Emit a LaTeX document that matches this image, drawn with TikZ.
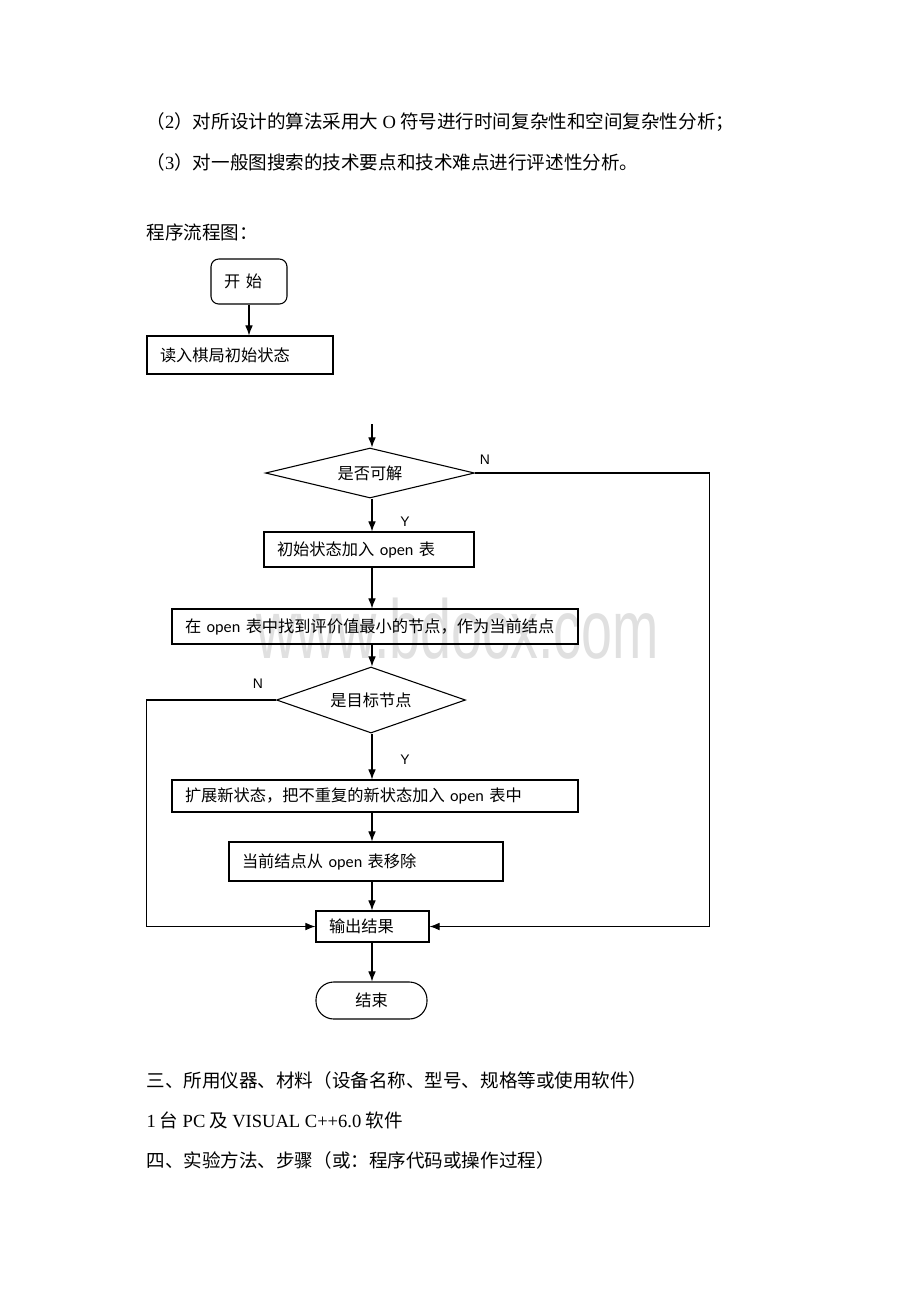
\documentclass[tikz,border=0pt]{standalone}
\usepackage{fontspec}
\usepackage{graphicx}
\setmainfont{Liberation Serif}
\newfontfamily\cjk{Noto Sans CJK SC}
\newfontfamily\calib{Carlito}
\newfontfamily\arial{Liberation Sans}
\usetikzlibrary{shapes.geometric,arrows.meta}
\def\pxs{0.6467pt}
\newcommand\flowfont{\cjk\fontsize{10.5pt}{12pt}\selectfont}
\newcommand\op{{\calib open}}
\newcommand\lat[1]{{\rmfamily#1}}

\begin{document}
\begin{tikzpicture}[x=0.6467pt,y=-0.6467pt,line width=0.7pt,
  arr/.style={-{Latex[length=6.5pt,width=5pt]}},
  body/.style={anchor=west,inner sep=0pt,font=\cjk\fontsize{12pt}{14pt}\selectfont},
  stepbox/.style n args={2}{draw,rectangle,minimum width=#1*\pxs,minimum height=#2*\pxs,text width=(#1-26)*\pxs,align=left,inner xsep=13*\pxs,inner ysep=0pt,font=\flowfont},
  dec/.style n args={2}{draw,diamond,shape aspect=4,inner sep=0pt,minimum width=#1*\pxs,minimum height=#2*\pxs,font=\flowfont},
  stopbox/.style={draw,rectangle,rounded corners=11.5pt,minimum width=111*\pxs,minimum height=37*\pxs,inner sep=0pt,font=\flowfont},
  yn/.style={inner sep=0pt,font=\arial\fontsize{9pt}{10pt}\selectfont}]
\fill[white] (0,0) rectangle (920,1302);
\useasboundingbox (0,0) rectangle (920,1302);
% watermark
\node[anchor=base west,inner sep=0pt,text=black!12,font=\arial\fontsize{36pt}{36pt}\selectfont] (mark) at (256,658) {\scalebox{1}[1.5]{www.bdocx.com}};
% page text
\node[body] (req2) at (146,122) {（\lat{2}）对所设计的算法采用大 \lat{O} 符号进行时间复杂性和空间复杂性分析；};
\node[body] (req3) at (146,162) {（\lat{3}）对一般图搜索的技术要点和技术难点进行评述性分析。};
\node[body] (title) at (146,232) {程序流程图：};
\node[body] (sec3) at (146,1080) {三、所用仪器、材料（设备名称、型号、规格等或使用软件）};
\node[body] (tools) at (146,1120) {\lat{1} 台 \lat{PC} 及 \lat{VISUAL C++6.0} 软件};
\node[body] (sec4) at (146,1160) {四、实验方法、步骤（或：程序代码或操作过程）};
% flow chart
\node[stepbox={76}{45},rounded corners=5pt] (start) at (249,281.5) {开\hspace{0.35em}始};
\node[stepbox={186}{38}] (read) at (240,355) {读入棋局初始状态};
\draw[arr] (start.south) -- (start.south |- read.north);
\coordinate (entry) at (372,424);
\node[dec={209}{50}] (solv) at (370,473) {是否可解};
\node[stepbox={210}{35}] (init) at (369,549.5) {初始状态加入 \op{} 表};
\node[stepbox={406}{35}] (find) at (375,626.5) {在 \op{} 表中找到评价值最小的节点，作为当前结点};
\node[dec={189}{66}] (goal) at (371,700) {是目标节点};
\node[stepbox={406}{32}] (expand) at (375,796) {扩展新状态，把不重复的新状态加入 \op{} 表中};
\node[stepbox={274}{39}] (remove) at (366,861.5) {当前结点从 \op{} 表移除};
\node[stepbox={113}{31}] (out) at (372.5,926.5) {输出结果};
\node[stopbox] (stop) at (371.5,1000.5) {结束};
\node[yn] (n1) at (485,460) {N};
\node[yn] (y1) at (405,522) {Y};
\node[yn] (n2) at (258,684) {N};
\node[yn] (y2) at (405,760) {Y};
\draw[arr] (entry) -- (entry |- solv.north);
\foreach \a/\b in {solv/init,init/find,find/goal,goal/expand,expand/remove,remove/out,out/stop} {
  \draw[arr] (entry |- \a.south) -- (entry |- \b.north);
}
\draw[arr] (solv.east) -- ++(234,0) |- (out.east);
\draw[arr] (goal.west) -- ++(-129.5,0) |- (out.west);
\end{tikzpicture}
\end{document}
